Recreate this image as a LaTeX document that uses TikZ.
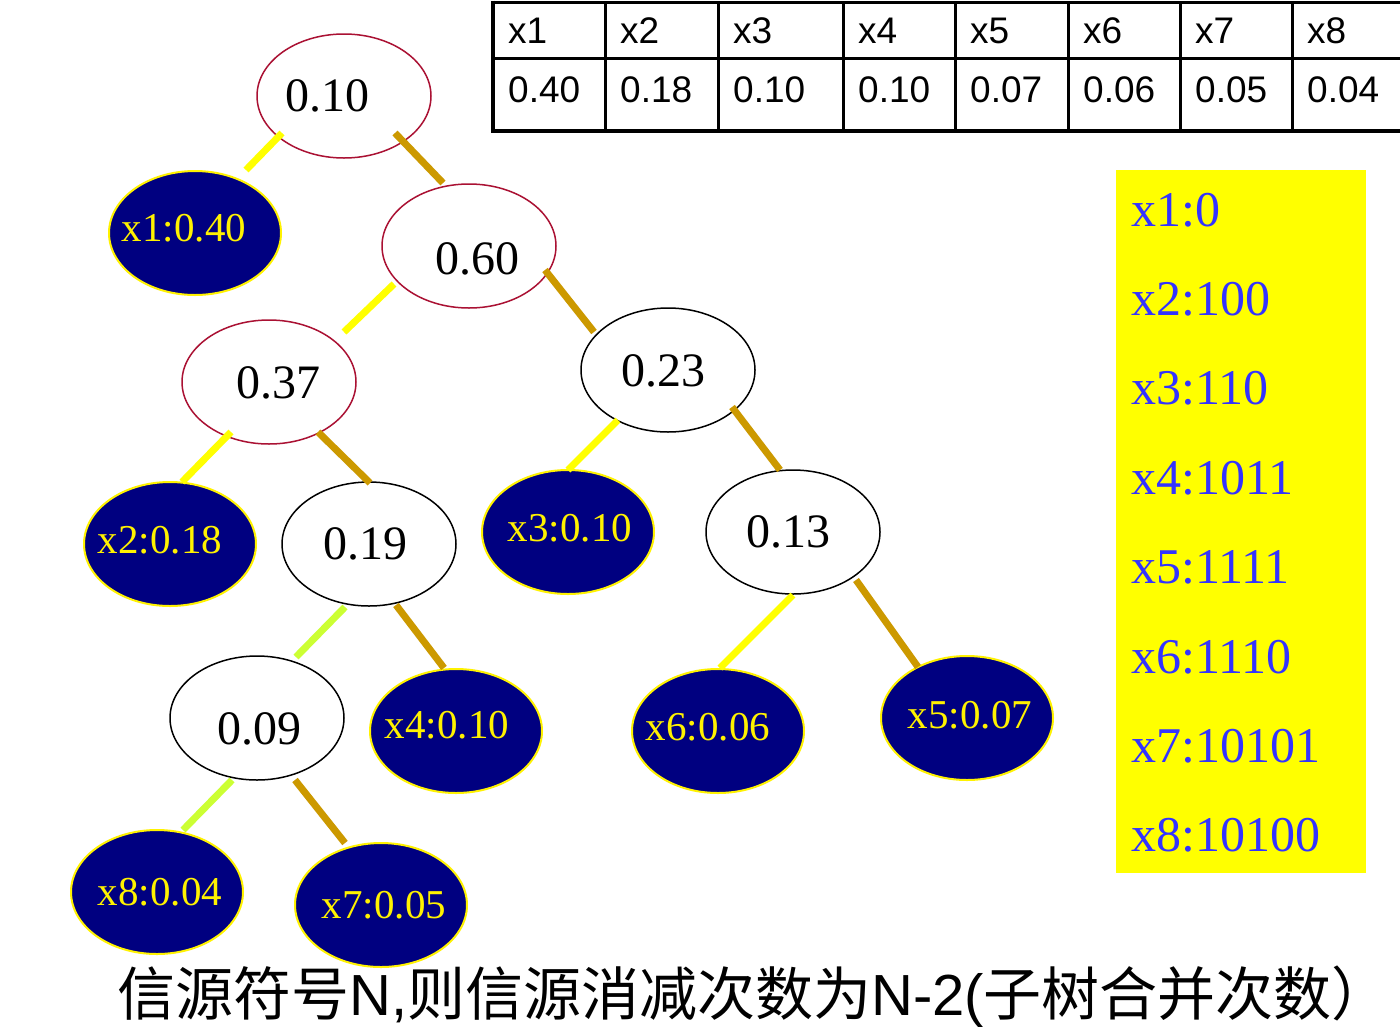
\documentclass[tikz,border=0pt]{standalone}
\usepackage{fontspec}
\setmainfont{Liberation Serif}
\newfontfamily\tabfont{Liberation Sans}
\newfontfamily\cjkfont{Noto Sans CJK SC}
\usetikzlibrary{shapes.geometric,calc}
\definecolor{navyfill}{HTML}{000080}
\definecolor{nodered}{HTML}{AA1133}
\definecolor{edgeyel}{HTML}{FFFF00}
\definecolor{edgegold}{HTML}{CC9900}
\definecolor{edgelime}{HTML}{CCFF33}
\definecolor{codeblue}{HTML}{3333FF}
\definecolor{boxyellow}{HTML}{FFFF00}
\begin{document}
\begin{tikzpicture}[x=1pt,y=-1pt,
  inode/.style={ellipse, line width=1.5pt, fill=white, minimum width=174pt, minimum height=124pt, inner sep=0pt},
  rednode/.style={inode, draw=nodered},
  blknode/.style={inode, draw=black},
  leaf/.style={ellipse, draw=yellow, line width=2pt, fill=navyfill, minimum width=172pt, minimum height=124pt, inner sep=0pt},
  itext/.style={font=\fontsize{48}{50}\selectfont, text=black, inner sep=0pt},
  ltext/.style={font=\fontsize{41}{43}\selectfont, text=yellow, inner sep=0pt},
  eyel/.style={line width=7pt, draw=edgeyel},
  egold/.style={line width=7pt, draw=edgegold},
  elime/.style={line width=7pt, draw=edgelime},
  tabline/.style={line width=3pt, draw=black},
  tabtext/.style={font=\tabfont\fontsize{37}{39}\selectfont, anchor=west, inner sep=0pt},
  codetext/.style={font=\fontsize{50}{52}\selectfont, text=codeblue, anchor=west, inner sep=0pt}
]
\useasboundingbox (0,0) rectangle (1400,1026);
\clip (0,0) rectangle (1400,1026);
\fill[white] (0,0) rectangle (1400,1026);

% ---------- tree nodes ----------
\node[rednode] (n010) at (344,96) {};
\node[leaf] (x1) at (195,233) {};
\node[rednode] (n060) at (469,246) {};
\node[rednode] (n037) at (269,382) {};
\node[blknode] (n023) at (668,370) {};
\node[leaf] (x2) at (170,544) {};
\node[blknode] (n019) at (369,544) {};
\node[leaf] (x3) at (568,532) {};
\node[blknode] (n013) at (793,532) {};
\node[blknode] (n009) at (257,718) {};
\node[leaf] (x4) at (456,731) {};
\node[leaf] (x6) at (718,731) {};
\node[leaf] (x5) at (967,718) {};
\node[leaf] (x8) at (157,892) {};
\node[leaf] (x7) at (381,905) {};

% ---------- node texts ----------
\node[itext] (t010) at ($(n010)+(-17,0)$) {0.10};
\node[itext] (t060) at ($(n060)+(8,13)$) {0.60};
\node[itext] (t037) at ($(n037)+(9,1)$) {0.37};
\node[itext] (t023) at ($(n023)+(-5,1)$) {0.23};
\node[itext] (t019) at ($(n019)+(-4,0)$) {0.19};
\node[itext] (t013) at ($(n013)+(-5,0)$) {0.13};
\node[itext] (t009) at ($(n009)+(2,11)$) {0.09};
\node[ltext] (tx1) at ($(x1)+(-11,-5)$) {x1:0.40};
\node[ltext] (tx2) at ($(x2)+(-10,-4)$) {x2:0.18};
\node[ltext] (tx3) at ($(x3)+(2,-4)$) {x3:0.10};
\node[ltext] (tx4) at ($(x4)+(-9,-6)$) {x4:0.10};
\node[ltext] (tx6) at ($(x6)+(-10,-4)$) {x6:0.06};
\node[ltext] (tx5) at ($(x5)+(3,-3)$) {x5:0.07};
\node[ltext] (tx8) at ($(x8)+(3,0)$) {x8:0.04};
\node[ltext] (tx7) at ($(x7)+(3,0)$) {x7:0.05};

% ---------- connectors ----------
\draw[eyel]  ($(n010)+(-62,37)$) -- ($(x1)+(51,-63)$);
\draw[egold] ($(n010)+(51,37)$)  -- ($(n060)+(-26,-63)$);
\draw[eyel]  ($(n060)+(-75,38)$) -- ($(n037)+(75,-50)$);
\draw[egold] ($(n060)+(76,24)$)  -- ($(n023)+(-74,-38)$);
\draw[eyel]  ($(n037)+(-38,50)$) -- ($(x2)+(12,-62)$);
\draw[egold] ($(n037)+(49,50)$)  -- ($(n019)+(1,-61)$);
\draw[eyel]  ($(n023)+(-50,50)$) -- ($(x3)+(0,-62)$);
\draw[egold] ($(n023)+(64,37)$)  -- ($(n013)+(-13,-62)$);
\draw[elime] ($(n019)+(-24,63)$) -- ($(n009)+(39,-61)$);
\draw[egold] ($(n019)+(27,61)$)  -- ($(x4)+(-12,-63)$);
\draw[eyel]  ($(n013)+(0,63)$)   -- ($(x6)+(2,-63)$);
\draw[egold] ($(n013)+(63,48)$)  -- ($(x5)+(-49,-51)$);
\draw[elime] ($(n009)+(-25,62)$) -- ($(x8)+(26,-62)$);
\draw[egold] ($(n009)+(38,62)$)  -- ($(x7)+(-36,-62)$);

% ---------- probability table ----------
\draw[tabline] (493,2) -- (1410,2);
\draw[tabline] (493,58) -- (1410,58);
\draw[line width=4pt] (491,131) -- (1410,131);
\draw[line width=4pt] (493,0.5) -- (493,133);
\foreach \xx in {605,718,843,955,1068,1180,1292}{
  \draw[tabline] (\xx,2) -- (\xx,131);
}
\node[tabtext] (h1) at (508,31) {x1};
\node[tabtext] (h2) at (620,31) {x2};
\node[tabtext] (h3) at (733,31) {x3};
\node[tabtext] (h4) at (858,31) {x4};
\node[tabtext] (h5) at (970,31) {x5};
\node[tabtext] (h6) at (1083,31) {x6};
\node[tabtext] (h7) at (1195,31) {x7};
\node[tabtext] (h8) at (1307,31) {x8};
\node[tabtext] (p1) at (508,90) {0.40};
\node[tabtext] (p2) at (620,90) {0.18};
\node[tabtext] (p3) at (733,90) {0.10};
\node[tabtext] (p4) at (858,90) {0.10};
\node[tabtext] (p5) at (970,90) {0.07};
\node[tabtext] (p6) at (1083,90) {0.06};
\node[tabtext] (p7) at (1195,90) {0.05};
\node[tabtext] (p8) at (1307,90) {0.04};

% ---------- code box ----------
\fill[boxyellow] (1116,170) rectangle (1366,873);
\node[codetext] (c1) at (1131,210) {x1:0};
\node[codetext] (c2) at (1131,299) {x2:100};
\node[codetext] (c3) at (1131,388) {x3:110};
\node[codetext] (c4) at (1131,478) {x4:1011};
\node[codetext] (c5) at (1131,567) {x5:1111};
\node[codetext] (c6) at (1131,657) {x6:1110};
\node[codetext] (c7) at (1131,746) {x7:10101};
\node[codetext] (c8) at (1131,835) {x8:10100};

% ---------- caption ----------
\node[anchor=west, inner sep=0pt, font=\cjkfont\fontsize{58}{60}\selectfont] (cap) at (117,997) {信源符号{\tabfont N,}则信源消减次数为{\tabfont N-2(}子树合并次数）};
\end{tikzpicture}
\end{document}
